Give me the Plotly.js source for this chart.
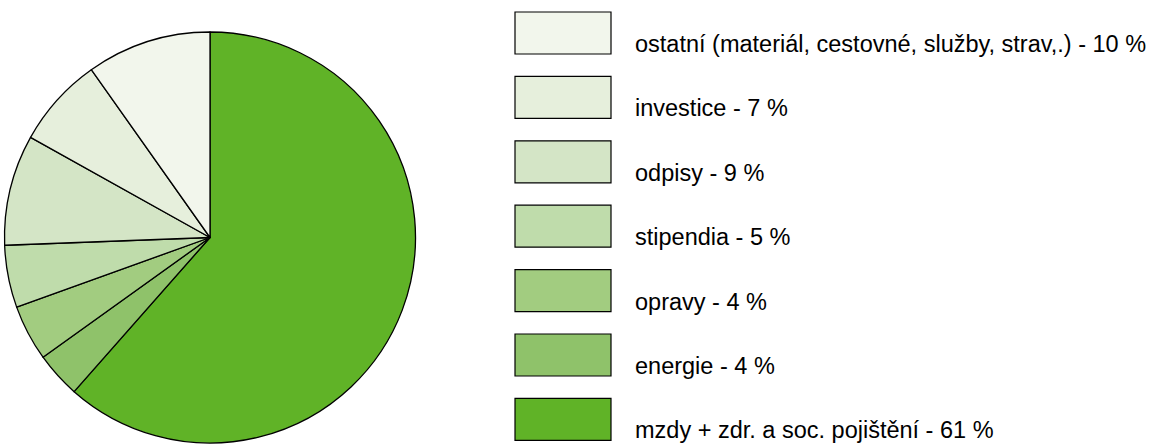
<!DOCTYPE html>
<html>
<head>
<meta charset="utf-8">
<script src="https://cdn.plot.ly/plotly-3.0.1.min.js"></script>
<style>html,body{margin:0;padding:0;background:#fff;}#chart{width:1166px;height:445px;}</style>
</head>
<body>
<div id="chart"></div>
<script>
// Data (clockwise from 12 o'clock)
const categories = ["mzdy + zdr. a soc. pojištění", "energie", "opravy", "stipendia", "odpisy", "investice", "ostatní (materiál, cestovné, služby, strav,.)"];
const values = [61.5, 3.6, 4.4, 4.9, 8.7, 7.1, 9.8];
const labelPercents = [61, 4, 4, 5, 9, 7, 10];
const colors = ["#60b327", "#8fc26a", "#a2cc80", "#bfdcab", "#d4e5c6", "#e6efdc", "#f2f6ec"];

const W = 1166, H = 445;
const px = x => x / W;
const py = y => 1 - y / H;

const trace = {
  type: "pie",
  labels: categories,
  values: values,
  sort: false,
  direction: "clockwise",
  rotation: 0,
  marker: {colors: colors, line: {color: "#000", width: 1.3}},
  textinfo: "none",
  hoverinfo: "label+percent",
  showlegend: false,
  domain: {x: [px(4), px(416)], y: [py(443), py(32)]}
};

// Legend drawn top-to-bottom in reverse of slice order
const shapes = [], annotations = [];
const order = categories.map((c, i) => i).reverse();
order.forEach((idx, row) => {
  const top = 12 + row * 64.4;
  shapes.push({
    type: "rect", xref: "paper", yref: "paper",
    x0: px(515), x1: px(611), y0: py(top), y1: py(top + 42),
    fillcolor: colors[idx], line: {color: "#000", width: 1.2}
  });
  annotations.push({
    xref: "paper", yref: "paper", x: px(633), y: py(top + 32),
    xanchor: "left", yanchor: "middle", showarrow: false,
    text: categories[idx] + " - " + labelPercents[idx] + " %",
    font: {family: "Liberation Sans, Arial, sans-serif", size: 23.5, color: "#000"}
  });
});

const layout = {
  width: W, height: H,
  margin: {l: 0, r: 0, t: 0, b: 0},
  paper_bgcolor: "#fff", plot_bgcolor: "#fff",
  shapes: shapes, annotations: annotations
};

Plotly.newPlot("chart", [trace], layout, {displayModeBar: false, staticPlot: true});
</script>
</body>
</html>
